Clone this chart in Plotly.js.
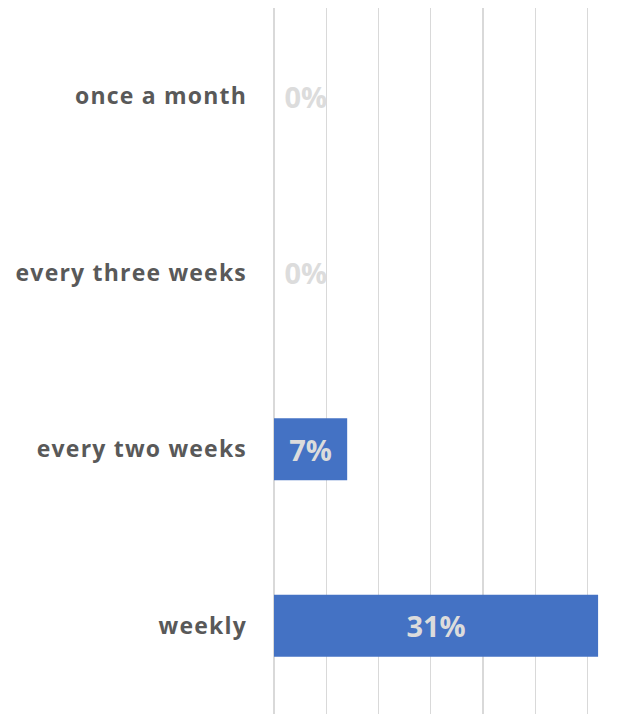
<!DOCTYPE html>
<html>
<head>
<meta charset="utf-8">
<script src="https://cdn.plot.ly/plotly-3.0.1.min.js"></script>
<style>
  html, body { margin: 0; padding: 0; background: #ffffff; }
  #chart { width: 626px; height: 714px; }
  .ytick text { letter-spacing: 1.2px; }
</style>
</head>
<body>
<div id="chart"></div>
<script>
const categories = ["weekly", "every two weeks", "every three weeks", "once a month"];
const values = [0.31, 0.07, 0, 0];
const valueLabels = ["31%", "7%", "0%", "0%"];

const barTrace = {
  type: "bar",
  orientation: "h",
  y: categories,
  x: values,
  text: values.map((v, i) => v > 0 ? valueLabels[i] : " " + valueLabels[i]),
  textposition: values.map(v => v > 0 ? "inside" : "outside"),
  insidetextanchor: "middle",
  textangle: 0,
  insidetextfont: { family: "Open Sans", size: 29, color: "#dcdcdc", weight: "bold" },
  outsidetextfont: { family: "Open Sans", size: 29, color: "#dcdcdc", weight: "bold" },
  cliponaxis: false,
  marker: { color: "#4472C4" },
  hoverinfo: "none"
};

const layout = {
  width: 626,
  height: 714,
  margin: { l: 274, r: 7, t: 8, b: 0, pad: 0 },
  paper_bgcolor: "#ffffff",
  plot_bgcolor: "#ffffff",
  showlegend: false,
  bargap: 0.65,
  xaxis: {
    range: [0, 0.33],
    dtick: 0.05,
    tick0: 0,
    showticklabels: false,
    showgrid: true,
    gridcolor: "#d9d9d9",
    gridwidth: 1.3,
    zeroline: true,
    zerolinecolor: "#d9d9d9",
    zerolinewidth: 1.3,
    showline: false,
    fixedrange: true
  },
  yaxis: {
    type: "category",
    categoryorder: "array",
    categoryarray: categories,
    showgrid: false,
    zeroline: false,
    showline: false,
    ticks: "",
    ticklabelstandoff: 26,
    tickfont: { family: "Open Sans", size: 23, color: "#595959", weight: "bold" },
    fixedrange: true
  }
};

Plotly.newPlot("chart", [barTrace], layout, { displayModeBar: false, staticPlot: true });
</script>
</body>
</html>
